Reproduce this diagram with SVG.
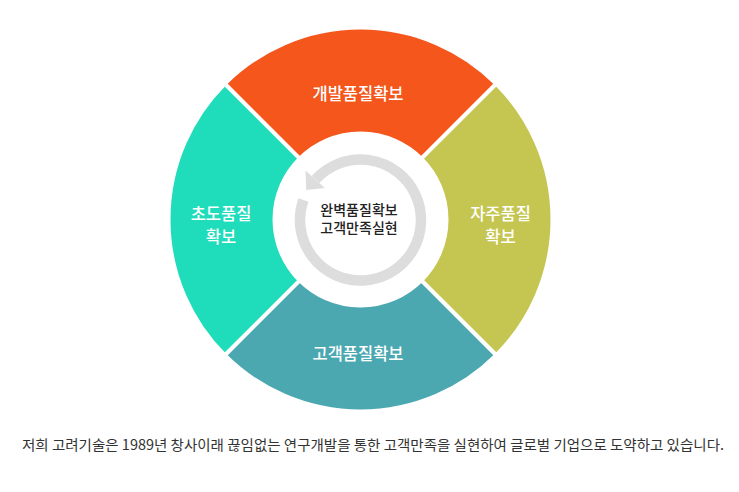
<svg xmlns="http://www.w3.org/2000/svg" width="739" height="492" viewBox="0 0 739 492">
<style>
.seg{stroke:#ffffff;stroke-width:4;stroke-linejoin:miter}
.lbl{font-family:"Noto Sans CJK KR","Noto Sans",sans-serif;font-size:16.5px;font-weight:500;fill:#ffffff;text-anchor:middle}
.ctr{font-family:"Noto Sans CJK KR","Noto Sans",sans-serif;font-size:14px;font-weight:500;fill:#222222;text-anchor:middle}
.cap{font-family:"Noto Sans CJK KR","Noto Sans",sans-serif;font-size:14px;fill:#333333}
</style>
<rect width="739" height="492" fill="#ffffff"/>
<g id="dev-quality">
<path class="seg" fill="#F4561C" d="M224.74,83.74 A192,192 0 0 1 496.26,83.74 L421.31,158.69 A86,86 0 0 0 299.69,158.69 Z"/>
<text class="lbl" x="358" y="99.5">개발품질확보</text>
</g>
<g id="self-quality">
<path class="seg" fill="#C5C552" d="M496.26,83.74 A192,192 0 0 1 496.26,355.26 L421.31,280.31 A86,86 0 0 0 421.31,158.69 Z"/>
<text class="lbl" x="500.5" y="220">자주품질</text>
<text class="lbl" x="500.5" y="243">확보</text>
</g>
<g id="customer-quality">
<path class="seg" fill="#4BA8B1" d="M496.26,355.26 A192,192 0 0 1 224.74,355.26 L299.69,280.31 A86,86 0 0 0 421.31,280.31 Z"/>
<text class="lbl" x="358" y="360">고객품질확보</text>
</g>
<g id="initial-quality">
<path class="seg" fill="#1FDCBB" d="M224.74,355.26 A192,192 0 0 1 224.74,83.74 L299.69,158.69 A86,86 0 0 0 299.69,280.31 Z"/>
<text class="lbl" x="221" y="220">초도품질</text>
<text class="lbl" x="221" y="243">확보</text>
</g>
<g id="center">
<path d="M303.4,200 A60.5,60.5 0 1 0 315.55,179.52" fill="none" stroke="#DDDDDD" stroke-width="10.5"/>
<polygon points="305.5,170.5 324.8,187.9 306.2,189.9" fill="#DDDDDD"/>
<text class="ctr" x="359" y="214.5">완벽품질확보</text>
<text class="ctr" x="359" y="233">고객만족실현</text>
</g>
<g id="connectors"></g>
<text class="cap" x="22" y="450" textLength="702" lengthAdjust="spacingAndGlyphs">저희 고려기술은 1989년 창사이래 끊임없는 연구개발을 통한 고객만족을 실현하여 글로벌 기업으로 도약하고 있습니다.</text>
</svg>
